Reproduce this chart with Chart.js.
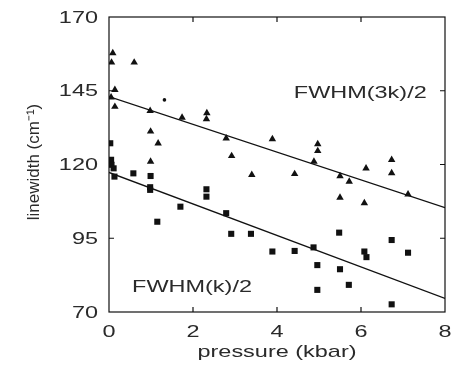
<!DOCTYPE html>
<html>
<head>
<meta charset="utf-8">
<script src="https://cdn.jsdelivr.net/npm/chart.js@4"></script>
<style>
  html, body { margin: 0; padding: 0; background: #fff; }
  #wrap { width: 453px; height: 379px; }
</style>
</head>
<body>
<div id="wrap"><canvas id="lwChart" width="453" height="379"></canvas></div>
<script>
// FWHM(3k)/2 - triangles
const triX = [0.09, 0.06, 0.6, 0.14, 0.05, 0.14, 0.98, 1.74, 2.33, 2.32, 0.99, 1.17, 2.79, 2.92, 0.99,
  3.89, 4.97, 4.97, 4.88, 6.12, 6.73, 4.42, 5.5, 5.72, 6.73, 7.12, 5.5, 6.08, 3.40];
const triY = [157.8, 154.6, 154.6, 145.3, 142.8, 139.6, 138.2, 135.9, 137.4, 135.4, 131.2, 127.2, 128.9, 122.9, 121,
  128.6, 126.9, 124.6, 121, 118.7, 121.6, 116.8, 116.1, 114.2, 117.1, 109.9, 108.8, 106.9, 116.5];

// FWHM(k)/2 - squares
const sqX = [0.03, 0.03, 0.05, 0.06, 0.11, 0.13, 0.58, 0.99, 0.98, 0.98, 2.32, 2.32, 1.70, 2.79, 1.15, 2.91, 3.38,
  3.89, 4.42, 4.87, 5.48, 6.08, 6.13, 6.73, 7.12, 4.96, 5.5, 5.71, 4.96, 6.73];
const sqY = [127.2, 121.3, 121.6, 119.9, 118.7, 115.9, 117, 116.1, 112.3, 111.4, 111.6, 109.1, 105.7, 103.5, 100.6, 96.5, 96.5,
  90.5, 90.7, 91.9, 96.9, 90.5, 88.6, 94.4, 90.1, 85.9, 84.5, 79.2, 77.5, 72.6];

// stray small dot
const dotX = [1.32];
const dotY = [141.9];

// fitted lines (end points at x = 0 and x = 8)
const fitX = [0, 8];
const fit3kY = [143, 105.4];
const fitkY = [117.3, 74.6];

const xTicks = [0, 2, 4, 6, 8];
const yTicks = [70, 95, 120, 145, 170];

const toPts = (xs, ys) => xs.map((x, i) => ({ x: x, y: ys[i] }));

const FONT = '17px "Liberation Sans", Arial, sans-serif';
const SX = 1.38; // the scanned figure is stretched sideways

function wideText(c, text, x, y, align) {
  c.save();
  c.translate(x, y);
  c.scale(SX, 1);
  c.textAlign = align;
  c.fillText(text, 0, 0);
  c.restore();
}

// inward tick marks on all four sides, frame and all texts
const decor = {
  id: 'decor',
  afterDraw(chart) {
    const c = chart.ctx;
    const a = chart.chartArea;
    const xs = chart.scales.x, ys = chart.scales.y;
    c.save();
    c.strokeStyle = '#111';
    c.lineWidth = 1.2;
    c.strokeRect(a.left, a.top, a.right - a.left, a.bottom - a.top);
    c.beginPath();
    xTicks.slice(1, -1).forEach(v => {
      const p = xs.getPixelForValue(v);
      c.moveTo(p, a.bottom); c.lineTo(p, a.bottom - 5);
      c.moveTo(p, a.top); c.lineTo(p, a.top + 5);
    });
    yTicks.slice(1, -1).forEach(v => {
      const p = ys.getPixelForValue(v);
      c.moveTo(a.left, p); c.lineTo(a.left + 5, p);
      c.moveTo(a.right, p); c.lineTo(a.right - 5, p);
    });
    c.stroke();

    c.fillStyle = '#2a2a2a';
    c.font = FONT;
    c.textBaseline = 'middle';
    xTicks.forEach(v => wideText(c, String(v), xs.getPixelForValue(v), a.bottom + 20, 'center'));
    yTicks.forEach(v => wideText(c, String(v), a.left - 11, ys.getPixelForValue(v) + 1, 'right'));
    wideText(c, 'pressure (kbar)', (a.left + a.right) / 2, 352, 'center');
    wideText(c, 'FWHM(3k)/2', xs.getPixelForValue(4.4), ys.getPixelForValue(144.3), 'left');
    wideText(c, 'FWHM(k)/2', xs.getPixelForValue(0.55), ys.getPixelForValue(78.3), 'left');

    c.save();
    c.translate(34, 162);
    c.rotate(-Math.PI / 2);
    c.textAlign = 'center';
    c.fillText('linewidth (cm\u207B\u00B9)', 0, 0);
    c.restore();
    c.restore();
  }
};

new Chart(document.getElementById('lwChart'), {
  type: 'scatter',
  data: {
    datasets: [
      {
        label: 'FWHM(3k)/2',
        data: toPts(triX, triY),
        pointStyle: 'triangle',
        radius: 4.3,
        backgroundColor: '#111',
        borderColor: '#111',
        borderWidth: 0
      },
      {
        label: 'FWHM(k)/2',
        data: toPts(sqX, sqY),
        pointStyle: 'rect',
        radius: 4.3,
        backgroundColor: '#111',
        borderColor: '#111',
        borderWidth: 0
      },
      {
        label: 'dot',
        data: toPts(dotX, dotY),
        pointStyle: 'circle',
        radius: 1.8,
        backgroundColor: '#111',
        borderWidth: 0
      },
      {
        label: 'fit 3k',
        data: toPts(fitX, fit3kY),
        showLine: true,
        borderColor: '#111',
        borderWidth: 1.3,
        pointRadius: 0
      },
      {
        label: 'fit k',
        data: toPts(fitX, fitkY),
        showLine: true,
        borderColor: '#111',
        borderWidth: 1.3,
        pointRadius: 0
      }
    ]
  },
  options: {
    responsive: false,
    animation: false,
    events: [],
    layout: { padding: { top: 17, right: 8, left: 0, bottom: 0 } },
    plugins: { legend: { display: false }, tooltip: { enabled: false } },
    scales: {
      x: {
        min: 0, max: 8,
        afterBuildTicks: s => { s.ticks = xTicks.map(v => ({ value: v })); },
        afterFit: s => { s.height = 67; },
        grid: { display: false, drawTicks: false },
        border: { display: false },
        ticks: { display: false }
      },
      y: {
        min: 70, max: 170,
        afterBuildTicks: s => { s.ticks = yTicks.map(v => ({ value: v })); },
        afterFit: s => { s.width = 109; },
        grid: { display: false, drawTicks: false },
        border: { display: false },
        ticks: { display: false }
      }
    }
  },
  plugins: [decor]
});
</script>
</body>
</html>
